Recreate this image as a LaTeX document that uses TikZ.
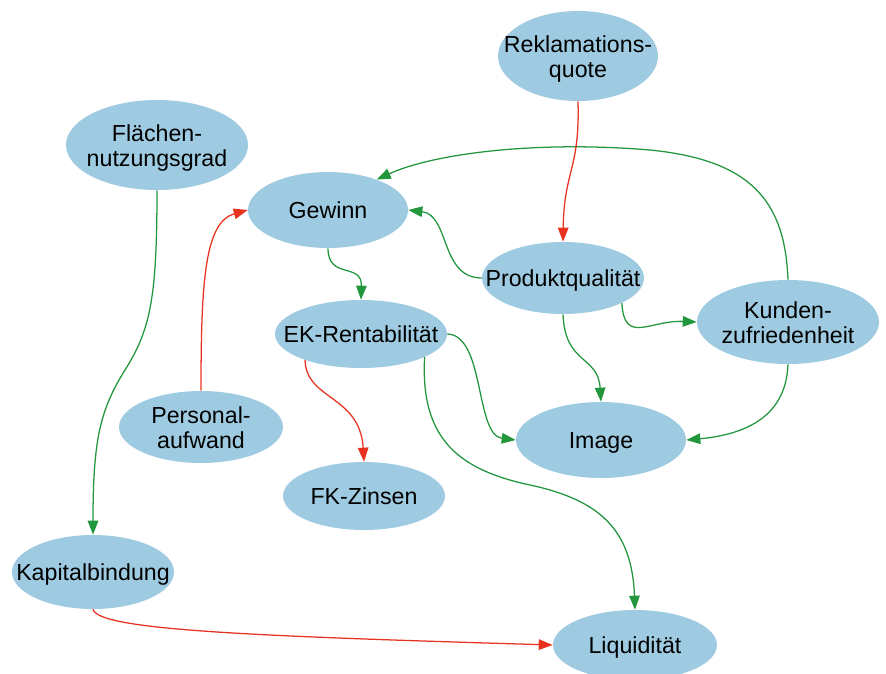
\documentclass[tikz,border=0pt]{standalone}
\usepackage{fontspec}
\setmainfont{Liberation Sans}
\usepackage{tikz}
\usetikzlibrary{shapes.geometric,arrows.meta}

\definecolor{blobblue}{RGB}{158,203,225}
\definecolor{linkgreen}{RGB}{34,150,60}
\definecolor{linkred}{RGB}{230,50,30}
\newcommand\nlab[1]{\raisebox{-2.8pt}[\height][\depth]{\makebox[0pt]{\begin{tabular}{@{}c@{}}#1\end{tabular}}}}

\begin{document}
\begin{tikzpicture}[>={Triangle[length=10pt,width=7.5pt]},
    blob/.style={ellipse,fill=blobblue,inner sep=0pt,
      font=\fontsize{16.5}{17.5}\selectfont},
    pluslink/.style={->,draw=linkgreen,line width=0.9pt},
    minuslink/.style={->,draw=linkred,line width=0.9pt}]
      \useasboundingbox (0,0) rectangle (22.15,-16.825);

      \node[blob,minimum width=4cm,minimum height=2.25cm] (rq) at (14.45,-1.4) {\nlab{Reklamations-\\quote}};
      \node[blob,minimum width=4.55cm,minimum height=2.25cm] (fn) at (3.925,-3.625) {\nlab{Flächen-\\nutzungsgrad}};
      \node[blob,minimum width=4cm,minimum height=1.9cm] (gew) at (8.2,-5.25) {\nlab{Gewinn}};
      \node[blob,minimum width=4.05cm,minimum height=1.8cm] (pq) at (14.075,-6.95) {\nlab{Produktqualität}};
      \node[blob,minimum width=4.3cm,minimum height=1.7cm] (ek) at (9.025,-8.35) {\nlab{EK-Rentabilität}};
      \node[blob,minimum width=4.55cm,minimum height=2.1cm] (kz) at (19.7,-8.05) {\nlab{Kunden-\\zufriedenheit}};
      \node[blob,minimum width=4.1cm,minimum height=1.8cm] (pa) at (5.025,-10.675) {\nlab{Personal-\\aufwand}};
      \node[blob,minimum width=4.25cm,minimum height=1.9cm] (img) at (15.025,-11) {\nlab{Image}};
      \node[blob,minimum width=4.05cm,minimum height=1.7cm] (fk) at (9.1,-12.4) {\nlab{FK-Zinsen}};
      \node[blob,minimum width=4.05cm,minimum height=1.85cm] (kb) at (2.325,-14.3) {\nlab{Kapitalbindung}};
      \node[blob,minimum width=4.1cm,minimum height=1.75cm] (liq) at (15.875,-16.125) {\nlab{Liquidität}};

      % verstaerkende Wirkungen
      \draw[pluslink] (kz.north) .. controls (19.625,-5) and (18.75,-4) .. (16.25,-3.75)
        .. controls (13.25,-3.5) and (10.75,-3.875) .. (gew.32);
      \draw[pluslink] (pq.west) .. controls (11,-6.95) and (11.25,-5.375) .. (gew.east);
      \draw[pluslink] (gew.south) .. controls (8.2,-7) and (9.05,-6.55) .. (ek.north);
      \draw[pluslink] (fn.south) .. controls (3.925,-7.5) and (3.75,-8.25) .. (3.125,-9.25)
        .. controls (2.5,-10.25) and (2.325,-11) .. (kb.north);
      \draw[pluslink] (pq.-23) .. controls (15.6,-8.625) and (16.25,-8) .. (kz.west);
      \draw[pluslink] (pq.south) .. controls (14.125,-9.125) and (14.95,-8.875) .. (img.north);
      \draw[pluslink] (kz.south) .. controls (19.65,-10.5) and (18.5,-10.875) .. (img.east);
      \draw[pluslink] (ek.east) .. controls (12.125,-8.375) and (11.875,-10.875) .. (img.west);
      \draw[pluslink] (ek.-20) .. controls (10.5,-11) and (11.5,-11.75) .. (13.25,-12.125)
        .. controls (15,-12.5) and (15.8,-13.25) .. (liq.north);

      % abschwaechende Wirkungen
      \draw[minuslink] (rq.south) .. controls (14.5,-4.25) and (14.1,-4.25) .. (pq.north);
      \draw[minuslink] (pa.north) .. controls (5.025,-7) and (5.125,-5.55) .. (gew.west);
      \draw[minuslink] (ek.205) .. controls (7.65,-10) and (9,-9.875) .. (fk.north);
      \draw[minuslink] (kb.south) .. controls (2.45,-15.75) and (6.25,-15.9) .. (liq.west);
\end{tikzpicture}
\end{document}
